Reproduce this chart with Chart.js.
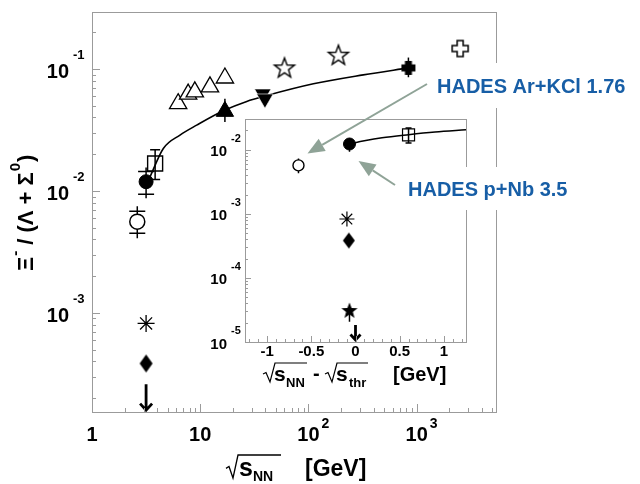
<!DOCTYPE html>
<html>
<head>
<meta charset="utf-8">
<script src="https://cdn.jsdelivr.net/npm/chart.js@4.4.1/dist/chart.umd.min.js"></script>
<style>
  html, body { margin: 0; padding: 0; background: #fff; }
  #wrap { position: relative; width: 640px; height: 484px; }
  #wrap canvas { position: absolute; left: 0; top: 0; }
</style>
</head>
<body>
<div id="wrap">
  <canvas id="mainChart" width="640" height="484"></canvas>
  <canvas id="insetChart" width="640" height="484"></canvas>
</div>
<script>
// ---- main panel: Xi- / (Lambda + Sigma0) vs sqrt(s_NN) [GeV]
const arKclX = [2.62], arKclY = [0.0056], arKclLo = [0.0045], arKclHi = [0.0068];
const pNbX = [3.16], pNbY = [0.0119], pNbLo = [0.0094], pNbHi = [0.0144];
const squareX = [3.83], squareY = [0.0168], squareLo = [0.0124], squareHi = [0.0218];
const openTriX = [6.25, 7.73, 8.91, 12.3, 16.9];
const openTriY = [0.0519, 0.0622, 0.0649, 0.0713, 0.0843];
const fullTriX = [16.9], fullTriY = [0.0449], fullTriLo = [0.0368], fullTriHi = [0.057];
const downTriX = [37.8, 39.6], downTriY = [0.0626, 0.057];
const openStarX = [60, 189], openStarY = [0.103, 0.131];
const fullCrossX = [838], fullCrossY = [0.102], fullCrossLo = [0.0855], fullCrossHi = [0.124];
const openCrossX = [2520], openCrossY = [0.147];
const asteriskX = [3.16], asteriskY = [0.00082];
const diamondX = [3.16], diamondY = [0.000385];
const limitX = [3.16], limitY = [0.00026];
const fitX = [3.44, 4.56, 6.5, 9.27, 16.7, 26.9, 39.7, 111, 321, 838];
const fitY = [0.0131, 0.0223, 0.0287, 0.0346, 0.0458, 0.0542, 0.060, 0.0755, 0.0894, 0.102];

const mainXTicks = [1, 10, 100, 1000], mainXBase = ['1', '10', '10', '10'], mainXExp = ['', '', '2', '3'];
const mainYTicks = [0.1, 0.01, 0.001], mainYExp = ['-1', '-2', '-3'];

// ---- inset: vs sqrt(s_NN) - sqrt(s_thr) [GeV]
const insArX = [-0.645], insArY = [0.0057], insArLo = [0.0043], insArHi = [0.0073];
const insPNbX = [-0.068], insPNbY = [0.0123], insPNbLo = [0.0093], insPNbHi = [0.0150];
const insSquareX = [0.6], insSquareY = [0.0171], insSquareLo = [0.0127], insSquareHi = [0.0218];
const insAsteriskX = [-0.097], insAsteriskY = [0.00083];
const insDiamondX = [-0.075], insDiamondY = [0.000383];
const insStarX = [-0.068], insStarY = [3.16e-5], insStarLo = [2.07e-5], insStarHi = [3.16e-5];
const insLimitX = [0.0], insLimitY = [1.84e-5];
const insFitX = [-0.07, 0.1, 0.3, 0.6, 0.9, 1.25];
const insFitY = [0.0123, 0.0138, 0.0154, 0.0172, 0.0189, 0.0205];

const insXTicks = [-1, -0.5, 0, 0.5, 1], insXLabels = ['-1', '-0.5', '0', '0.5', '1'];
const insYTicks = [1e-2, 1e-3, 1e-4, 1e-5], insYExp = ['-2', '-3', '-4', '-5'];

const FONT = '"Liberation Sans", Arial, sans-serif';
const AXIS = '#9b9b9b';
const BLUE = '#175ea6';
const ARROW = '#8fa397';

const pts = (xs, ys) => xs.map((x, i) => ({x, y: ys[i]}));

// marker images for shapes chart.js does not have
function marker(w, h, draw) {
  const c = document.createElement('canvas');
  c.width = w; c.height = h;
  draw(c.getContext('2d'), w / 2, h / 2);
  return c;
}
function starPath(g, cx, cy, R, r) {
  g.beginPath();
  for (let i = 0; i < 10; i++) {
    const a = -Math.PI / 2 + i * Math.PI / 5, rr = i % 2 ? r : R;
    g.lineTo(cx + rr * Math.cos(a), cy + rr * Math.sin(a));
  }
  g.closePath();
}
function plusPath(g, cx, cy, L, t) {
  g.beginPath();
  [[-t, -L], [t, -L], [t, -t], [L, -t], [L, t], [t, t], [t, L], [-t, L], [-t, t], [-L, t], [-L, -t], [-t, -t]]
    .forEach(([dx, dy]) => g.lineTo(cx + dx, cy + dy));
  g.closePath();
}
const openStarImg = marker(26, 26, (g, cx, cy) => {
  starPath(g, cx, cy + 1, 10.5, 4.3);
  g.fillStyle = '#fff'; g.fill(); g.lineWidth = 1.4; g.strokeStyle = '#000'; g.stroke();
});
const fullStarImg = marker(22, 22, (g, cx, cy) => {
  starPath(g, cx, cy + 1, 8.5, 3.6); g.fillStyle = '#000'; g.fill();
});
const openCrossImg = marker(22, 22, (g, cx, cy) => {
  plusPath(g, cx, cy, 8, 3);
  g.fillStyle = '#fff'; g.fill(); g.lineWidth = 1.5; g.strokeStyle = '#000'; g.stroke();
});
const fullCrossImg = marker(20, 20, (g, cx, cy) => {
  plusPath(g, cx, cy, 7, 3.5); g.fillStyle = '#000'; g.fill();
});
const diamondImg = (w, h) => marker(w + 2, h + 2, (g, cx, cy) => {
  g.beginPath();
  g.moveTo(cx, cy - h / 2); g.lineTo(cx + w / 2, cy); g.lineTo(cx, cy + h / 2); g.lineTo(cx - w / 2, cy);
  g.closePath(); g.fillStyle = '#000'; g.fill();
});

function logTicks(min, max) {
  const out = [];
  for (let d = Math.floor(Math.log10(min)); d <= Math.ceil(Math.log10(max)); d++) {
    for (let m = 1; m <= 9; m++) {
      const v = m * Math.pow(10, d);
      if (v >= min * 0.999 && v <= max * 1.001) out.push({v, major: m === 1});
    }
  }
  return out;
}
function text(ctx, s, x, y, size, align, weight) {
  ctx.font = (weight || 'bold') + ' ' + size + 'px ' + FONT;
  ctx.textAlign = align || 'left';
  ctx.fillText(s, x, y);
  return ctx.measureText(s).width;
}
function radical(ctx, x, yTop, yBot, endX) {
  const h = yBot - yTop;
  ctx.beginPath();
  ctx.moveTo(x, yBot - 0.42 * h);
  ctx.lineTo(x + 3, yBot - 0.5 * h);
  ctx.lineTo(x + 7, yBot);
  ctx.lineTo(x + 12, yTop);
  ctx.lineTo(endX, yTop);
  ctx.stroke();
}

// error bars and upper-limit arrows, read from dataset props
const errorBars = {
  id: 'errorBars',
  beforeDatasetsDraw(chart) {
    const {ctx, scales: {y}} = chart;
    ctx.save();
    ctx.strokeStyle = '#000';
    chart.data.datasets.forEach((ds, i) => {
      if (!ds.errLo) return;
      chart.getDatasetMeta(i).data.forEach((p, j) => {
        const lo = y.getPixelForValue(ds.errLo[j]), hi = y.getPixelForValue(ds.errHi[j]);
        const ext = ds.errExt || 0, cap = ds.capW || 0;
        ctx.lineWidth = 1.5;
        ctx.beginPath();
        ctx.moveTo(p.x, lo + ext); ctx.lineTo(p.x, hi - ext);
        if (cap) {
          ctx.moveTo(p.x - cap / 2, lo); ctx.lineTo(p.x + cap / 2, lo);
          if (ds.errHi[j] !== ds.data[j].y) { ctx.moveTo(p.x - cap / 2, hi); ctx.lineTo(p.x + cap / 2, hi); }
        }
        ctx.stroke();
      });
    });
    ctx.restore();
  },
  afterDatasetsDraw(chart) {
    const {ctx} = chart;
    ctx.save();
    ctx.strokeStyle = '#000';
    chart.data.datasets.forEach((ds, i) => {
      if (!ds.limitLen) return;
      chart.getDatasetMeta(i).data.forEach(p => {
        const L = ds.limitLen, hw = ds.limitHead;
        ctx.lineWidth = 2.8;
        ctx.beginPath();
        ctx.moveTo(p.x, p.y); ctx.lineTo(p.x, p.y + L);
        ctx.moveTo(p.x - hw, p.y + L - hw * 1.1); ctx.lineTo(p.x, p.y + L); ctx.lineTo(p.x + hw, p.y + L - hw * 1.1);
        ctx.stroke();
      });
    });
    ctx.restore();
  }
};

const mainAxes = {
  id: 'mainAxes',
  afterDraw(chart) {
    const {ctx, chartArea: a, scales: {x, y}} = chart;
    ctx.save();
    ctx.strokeStyle = AXIS; ctx.lineWidth = 1;
    ctx.strokeRect(Math.round(a.left) + 0.5, Math.round(a.top) + 0.5, Math.round(a.right - a.left), Math.round(a.bottom - a.top));
    ctx.beginPath();
    logTicks(x.min, x.max).forEach(t => {
      const px = Math.round(x.getPixelForValue(t.v)) + 0.5;
      ctx.moveTo(px, a.bottom); ctx.lineTo(px, a.bottom - (t.major ? 8 : 4));
    });
    logTicks(y.min, y.max).forEach(t => {
      const py = Math.round(y.getPixelForValue(t.v)) + 0.5;
      ctx.moveTo(a.left, py); ctx.lineTo(a.left + (t.major ? 8 : 4), py);
    });
    ctx.stroke();

    ctx.fillStyle = '#000';
    mainXTicks.forEach((v, i) => {
      const px = x.getPixelForValue(v);
      const w = text(ctx, mainXBase[i], px, a.bottom + 29, 20, 'center');
      if (mainXExp[i]) text(ctx, mainXExp[i], px + w / 2 + 2, a.bottom + 16, 14, 'left');
    });
    mainYTicks.forEach((v, i) => {
      const py = y.getPixelForValue(v);
      text(ctx, '10', a.left - 23, py + 9, 20, 'right');
      text(ctx, mainYExp[i], a.left - 19, py - 10, 13, 'left');
    });

    // x title: sqrt(s_NN)  [GeV]
    ctx.strokeStyle = '#000'; ctx.lineWidth = 1.3;
    radical(ctx, 226, 455, 478, 281);
    text(ctx, 's', 239, 476, 25, 'left');
    text(ctx, 'NN', 253, 481, 14, 'left');
    text(ctx, '[GeV]', 305, 476, 23, 'left');

    // y title: Xi- / (Lambda + Sigma0), rotated
    ctx.translate(33, 271);
    ctx.rotate(-Math.PI / 2);
    let cx = 0;
    cx += text(ctx, 'Ξ', cx, 0, 22, 'left');
    cx += text(ctx, '-', cx + 1, -13, 15, 'left') + 1;
    cx += text(ctx, ' / (Λ + Σ', cx, 0, 22, 'left');
    cx += text(ctx, '0', cx + 1, -13, 15, 'left') + 1;
    text(ctx, ')', cx + 1, 0, 22, 'left');
    ctx.restore();
  }
};

const insetAxes = {
  id: 'insetAxes',
  afterDraw(chart) {
    const {ctx, chartArea: a, scales: {x, y}} = chart;
    ctx.save();
    ctx.strokeStyle = AXIS; ctx.lineWidth = 1;
    ctx.strokeRect(Math.round(a.left) + 0.5, Math.round(a.top) + 0.5, Math.round(a.right - a.left), Math.round(a.bottom - a.top));
    ctx.beginPath();
    for (let k = -12; k <= 12; k++) {
      const v = k / 10, px = Math.round(x.getPixelForValue(v)) + 0.5;
      ctx.moveTo(px, a.bottom); ctx.lineTo(px, a.bottom - (k % 5 === 0 ? 6 : 3));
    }
    logTicks(y.min, y.max).forEach(t => {
      const py = Math.round(y.getPixelForValue(t.v)) + 0.5;
      ctx.moveTo(a.left, py); ctx.lineTo(a.left + (t.major ? 6 : 3), py);
    });
    ctx.stroke();

    ctx.fillStyle = '#000';
    insXTicks.forEach((v, i) => text(ctx, insXLabels[i], x.getPixelForValue(v), a.bottom + 14, 15, 'center'));
    insYTicks.forEach((v, i) => {
      const py = y.getPixelForValue(v);
      text(ctx, '10', a.left - 18, py + 6.5, 15, 'right');
      text(ctx, insYExp[i], a.left - 14, py - 8, 11, 'left');
    });

    // x title: sqrt(s_NN) - sqrt(s_thr)  [GeV]
    ctx.strokeStyle = '#000'; ctx.lineWidth = 1.2;
    radical(ctx, 263, 363, 382, 307);
    text(ctx, 's', 274, 381, 21, 'left');
    text(ctx, 'NN', 286, 387, 13, 'left');
    text(ctx, '-', 313, 380, 20, 'left');
    radical(ctx, 325, 363, 382, 368);
    text(ctx, 's', 336, 381, 21, 'left');
    text(ctx, 'thr', 349, 387, 13, 'left');
    text(ctx, '[GeV]', 393, 381, 20, 'left');

    // HADES labels with arrows pointing at the inset points
    const arP = chart.getDatasetMeta(0).data[0], nbP = chart.getDatasetMeta(1).data[0];
    const arrow = (x0, y0, x1, y1) => {
      const ang = Math.atan2(y1 - y0, x1 - x0), L = 17, W = 7;
      const bx = x1 - L * Math.cos(ang), by = y1 - L * Math.sin(ang);
      ctx.strokeStyle = ARROW; ctx.fillStyle = ARROW; ctx.lineWidth = 2;
      ctx.beginPath(); ctx.moveTo(x0, y0); ctx.lineTo(bx, by); ctx.stroke();
      ctx.beginPath();
      ctx.moveTo(x1, y1);
      ctx.lineTo(bx + W * Math.sin(ang), by - W * Math.cos(ang));
      ctx.lineTo(bx - W * Math.sin(ang), by + W * Math.cos(ang));
      ctx.closePath(); ctx.fill();
    };
    arrow(427, 84, arP.x + 9, arP.y - 12);
    arrow(395, 185, nbP.x + 9, nbP.y + 17);

    ctx.fillStyle = '#fff';
    ctx.fillRect(429, 63, 211, 45);
    ctx.fillRect(399, 167, 200, 43);
    ctx.fillStyle = BLUE;
    text(ctx, 'HADES Ar+KCl 1.76', 437, 93, 20, 'left');
    text(ctx, 'HADES p+Nb 3.5', 408, 196, 20, 'left');
    ctx.restore();
  }
};

const base = {
  responsive: false, animation: false, events: [],
  plugins: {legend: {display: false}, tooltip: {enabled: false}}
};

new Chart(document.getElementById('mainChart'), {
  type: 'scatter',
  data: {
    datasets: [
      {data: pts(arKclX, arKclY), pointStyle: 'circle', pointRadius: 7.5, backgroundColor: '#fff', borderColor: '#000', borderWidth: 1.5,
       errLo: arKclLo, errHi: arKclHi, capW: 16, errExt: 5},
      {data: pts(pNbX, pNbY), pointStyle: 'circle', pointRadius: 7, backgroundColor: '#000', borderColor: '#000', borderWidth: 1,
       errLo: pNbLo, errHi: pNbHi, capW: 16, errExt: 4},
      {data: pts(squareX, squareY), pointStyle: 'rect', pointRadius: 10.6, backgroundColor: 'rgba(0,0,0,0)', borderColor: '#000', borderWidth: 1.4,
       errLo: squareLo, errHi: squareHi, capW: 10, errExt: 0},
      {data: pts(openTriX, openTriY), pointStyle: 'triangle', pointRadius: 10, backgroundColor: '#fff', borderColor: '#000', borderWidth: 1.3},
      {data: pts(fullTriX, fullTriY), pointStyle: 'triangle', pointRadius: 10, backgroundColor: '#000', borderColor: '#000', borderWidth: 1,
       errLo: fullTriLo, errHi: fullTriHi, capW: 0},
      {data: pts(downTriX, downTriY), pointStyle: 'triangle', rotation: 180, pointRadius: 9.5, backgroundColor: '#000', borderColor: '#fff', borderWidth: 0.6},
      {data: pts(openStarX, openStarY), pointStyle: openStarImg},
      {data: pts(fullCrossX, fullCrossY), pointStyle: fullCrossImg, errLo: fullCrossLo, errHi: fullCrossHi, capW: 0},
      {data: pts(openCrossX, openCrossY), pointStyle: openCrossImg},
      {data: pts(asteriskX, asteriskY), pointStyle: 'star', pointRadius: 8.5, borderColor: '#000', borderWidth: 1.3},
      {data: pts(diamondX, diamondY), pointStyle: diamondImg(13, 18)},
      {data: pts(limitX, limitY), pointRadius: 0, limitLen: 26, limitHead: 6},
      {data: pts(fitX, fitY), showLine: true, pointRadius: 0, borderColor: '#000', borderWidth: 1.6, cubicInterpolationMode: 'monotone'}
    ]
  },
  options: {
    ...base,
    layout: {padding: {left: 92, top: 9, right: 144, bottom: 72}},
    scales: {
      x: {type: 'logarithmic', min: 1, max: 5400, display: false},
      y: {type: 'logarithmic', min: 1.54e-4, max: 0.293, display: false}
    }
  },
  plugins: [errorBars, mainAxes]
});

new Chart(document.getElementById('insetChart'), {
  type: 'scatter',
  data: {
    datasets: [
      {data: pts(insArX, insArY), pointStyle: 'circle', pointRadius: 5.5, backgroundColor: '#fff', borderColor: '#000', borderWidth: 1.4,
       errLo: insArLo, errHi: insArHi, capW: 0},
      {data: pts(insPNbX, insPNbY), pointStyle: 'circle', pointRadius: 6, backgroundColor: '#000', borderColor: '#000', borderWidth: 1,
       errLo: insPNbLo, errHi: insPNbHi, capW: 0},
      {data: pts(insSquareX, insSquareY), pointStyle: 'rect', pointRadius: 8.5, backgroundColor: 'rgba(0,0,0,0)', borderColor: '#000', borderWidth: 1.2,
       errLo: insSquareLo, errHi: insSquareHi, capW: 6},
      {data: pts(insAsteriskX, insAsteriskY), pointStyle: 'star', pointRadius: 7.5, borderColor: '#000', borderWidth: 1.2},
      {data: pts(insDiamondX, insDiamondY), pointStyle: diamondImg(12, 16)},
      {data: pts(insStarX, insStarY), pointStyle: fullStarImg, errLo: insStarLo, errHi: insStarHi, capW: 0},
      {data: pts(insLimitX, insLimitY), pointRadius: 0, limitLen: 15, limitHead: 5},
      {data: pts(insFitX, insFitY), showLine: true, pointRadius: 0, borderColor: '#000', borderWidth: 1.5, cubicInterpolationMode: 'monotone'}
    ]
  },
  options: {
    ...base,
    layout: {padding: {left: 245, top: 119, right: 174, bottom: 142}},
    scales: {
      x: {type: 'linear', min: -1.25, max: 1.25, display: false},
      y: {type: 'logarithmic', min: 1e-5, max: 0.0302, display: false}
    }
  },
  plugins: [errorBars, insetAxes]
});
</script>
</body>
</html>
